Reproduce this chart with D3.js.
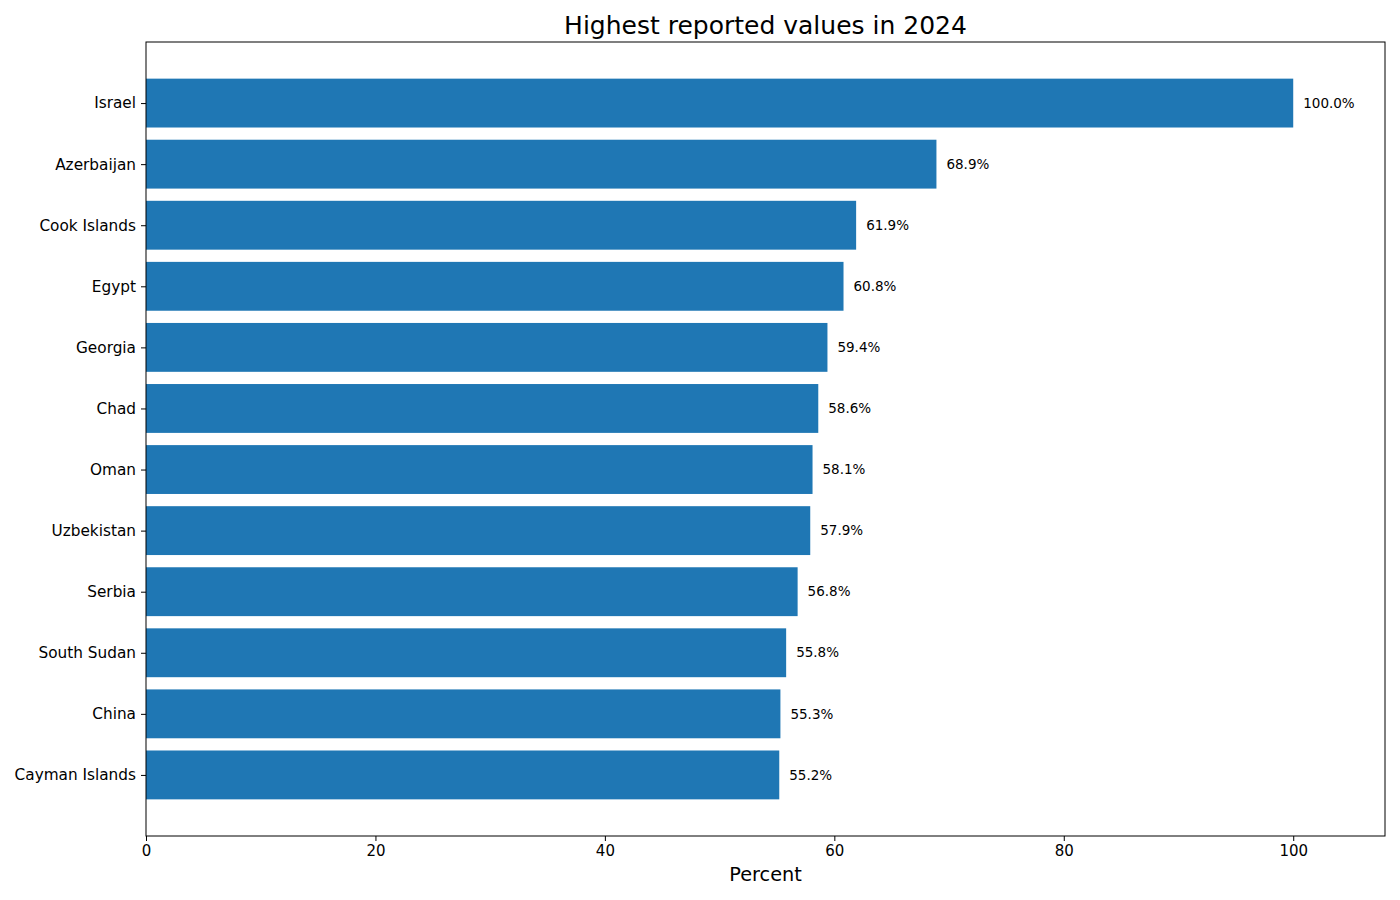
<!DOCTYPE html>
<html>
<head>
<meta charset="utf-8">
<script src="https://cdn.jsdelivr.net/npm/d3@7"></script>
<style>
  body { margin: 0; background: #fff; }
  svg { font-family: "DejaVu Sans", sans-serif; }
</style>
</head>
<body>
<svg id="chart" width="1400" height="900"></svg>
<script>
// data
const countries = ["Israel", "Azerbaijan", "Cook Islands", "Egypt", "Georgia", "Chad",
  "Oman", "Uzbekistan", "Serbia", "South Sudan", "China", "Cayman Islands"];
const values = [100.0, 68.9, 61.9, 60.8, 59.4, 58.6, 58.1, 57.9, 56.8, 55.8, 55.3, 55.2];
const xTicks = [0, 20, 40, 60, 80, 100];

const svg = d3.select("#chart");
const margin = {top: 42, right: 15, bottom: 64, left: 146};
const width = 1400 - margin.left - margin.right,
  height = 900 - margin.top - margin.bottom;

const g = svg.append("g").attr("transform", "translate(" + margin.left + "," + margin.top + ")");

const x = d3.scaleLinear().domain([0, 108]).range([0, width]);
// categories sit at 0..n-1, axis runs from -1 to n like matplotlib barh
const y = d3.scaleLinear().domain([-1, countries.length]).range([0, height]);
const barH = y(0.4) - y(-0.4);

g.selectAll("rect.bar")
  .data(values)
  .enter().append("rect")
  .attr("class", "bar")
  .attr("x", x(0))
  .attr("y", (d, i) => y(i - 0.4))
  .attr("width", d => x(d) - x(0))
  .attr("height", barH)
  .attr("fill", "#1f77b4");

g.selectAll("text.val")
  .data(values)
  .enter().append("text")
  .attr("class", "val")
  .attr("x", d => x(d) + 10)
  .attr("y", (d, i) => y(i))
  .attr("dy", "0.35em")
  .attr("font-size", "13.5px")
  .attr("fill", "#000")
  .text(d => d.toFixed(1) + "%");

// frame
g.append("rect")
  .attr("width", width)
  .attr("height", height)
  .attr("fill", "none")
  .attr("stroke", "#000")
  .attr("stroke-width", 1);

const xAxis = g.append("g")
  .attr("transform", "translate(0," + height + ")")
  .call(d3.axisBottom(x).tickValues(xTicks).tickSize(5).tickPadding(4).tickFormat(d3.format("d")));
xAxis.select(".domain").remove();
xAxis.selectAll("text").attr("font-size", "15px").attr("fill", "#000").attr("font-family", "DejaVu Sans");

const yAxis = g.append("g")
  .call(d3.axisLeft(y).tickValues(d3.range(countries.length)).tickSize(5).tickPadding(5)
    .tickFormat(i => countries[i]));
yAxis.select(".domain").remove();
yAxis.selectAll("text").attr("font-size", "15.3px").attr("fill", "#000").attr("font-family", "DejaVu Sans");

svg.append("text")
  .attr("x", margin.left + width / 2)
  .attr("y", 881)
  .attr("text-anchor", "middle")
  .attr("font-size", "19.3px")
  .text("Percent");

svg.append("text")
  .attr("x", margin.left + width / 2)
  .attr("y", 34)
  .attr("text-anchor", "middle")
  .attr("font-size", "25px")
  .text("Highest reported values in 2024");
</script>
</body>
</html>
